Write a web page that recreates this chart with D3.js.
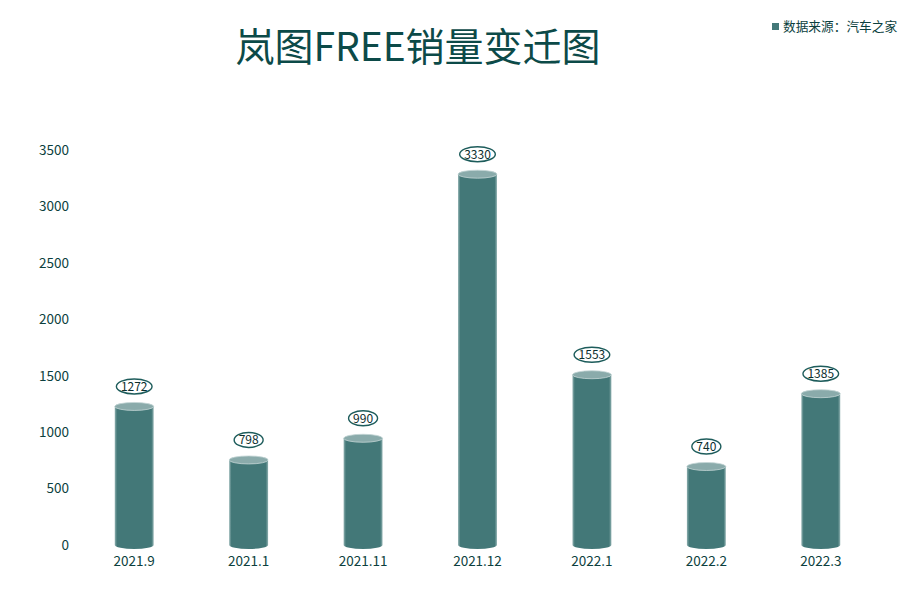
<!DOCTYPE html>
<html>
<head>
<meta charset="utf-8">
<script src="https://cdn.jsdelivr.net/npm/d3@7/dist/d3.min.js"></script>
<style>
  body { margin: 0; background: #fff; }
  text { font-family: "Noto Sans CJK SC", "Noto Sans", sans-serif; }
</style>
</head>
<body>
<div id="chart"></div>
<script>
// chart data
var months = ["2021.9", "2021.1", "2021.11", "2021.12", "2022.1", "2022.2", "2022.3"];
var sales = [1272, 798, 990, 3330, 1553, 740, 1385];
var yTicks = [0, 500, 1000, 1500, 2000, 2500, 3000, 3500];

var width = 913;
var height = 605;

var svg = d3.select("#chart")
    .append("svg")
    .attr("width", width)
    .attr("height", height);

var defs = svg.append("defs");

// side shading of the cylinder body
var bodyGrad = defs.append("linearGradient")
    .attr("id", "bodyGrad")
    .attr("x1", "0%").attr("x2", "100%")
    .attr("y1", "0%").attr("y2", "0%");
bodyGrad.append("stop").attr("offset", "0%").attr("stop-color", "#8fb0b0");
bodyGrad.append("stop").attr("offset", "6%").attr("stop-color", "#437878");
bodyGrad.append("stop").attr("offset", "94%").attr("stop-color", "#437878");
bodyGrad.append("stop").attr("offset", "100%").attr("stop-color", "#8fb0b0");

var x = d3.scaleBand()
    .domain(months)
    .range([77, 878])
    .paddingInner(0.66)
    .paddingOuter(0.33);

var y = d3.scaleLinear()
    .domain([0, 3500])
    .range([545, 150]);

// title
svg.append("text")
    .attr("x", 418)
    .attr("y", 61)
    .attr("text-anchor", "middle")
    .attr("font-size", 39)
    .attr("fill", "#0c4a48")
    .text("岚图FREE销量变迁图");

// legend
svg.append("rect")
    .attr("x", 772).attr("y", 23)
    .attr("width", 7).attr("height", 7)
    .attr("fill", "#437878");
svg.append("text")
    .attr("x", 783).attr("y", 31)
    .attr("font-size", 12.7)
    .attr("fill", "#0c3f3e")
    .text("数据来源：汽车之家");

// y axis labels only
var yAxis = d3.axisLeft(y).tickValues(yTicks).tickFormat(d3.format("d")).tickSize(0).tickPadding(0);
var gy = svg.append("g")
    .attr("transform", "translate(69,0)")
    .call(yAxis);
gy.select(".domain").remove();
gy.selectAll("text")
    .attr("font-size", 13.5)
    .attr("fill", "#0c3f3e")
    .style("font-family", '"Noto Sans CJK SC", sans-serif');

// x axis labels only
var xAxis = d3.axisBottom(x).tickSize(0).tickPadding(0);
var gx = svg.append("g")
    .attr("transform", "translate(0,556)")
    .call(xAxis);
gx.select(".domain").remove();
gx.selectAll("text")
    .attr("font-size", 13.5)
    .attr("fill", "#0c3f3e")
    .style("font-family", '"Noto Sans CJK SC", sans-serif');

var bw = x.bandwidth();
var ry = 4;

var bars = svg.selectAll(".bar")
    .data(sales)
    .enter()
    .append("g")
    .attr("class", "bar");

// body with rounded bottom
bars.append("path")
    .attr("d", function(d, i) {
        var x0 = x(months[i]);
        var x1 = x0 + bw;
        var top = y(d) + ry + 1;
        var bot = y(0);
        return "M" + x0 + "," + top +
            "L" + x0 + "," + bot +
            "A" + (bw / 2) + "," + ry + " 0 0 0 " + x1 + "," + bot +
            "L" + x1 + "," + top + "Z";
    })
    .attr("fill", "url(#bodyGrad)");

// top face
bars.append("ellipse")
    .attr("cx", function(d, i) { return x(months[i]) + bw / 2; })
    .attr("cy", function(d) { return y(d) + ry + 1; })
    .attr("rx", bw / 2)
    .attr("ry", ry)
    .attr("fill", "#8aabab")
    .attr("stroke", "#c4d6d6")
    .attr("stroke-width", 0.8);

// value labels in ovals
var ovals = bars.append("ellipse")
    .attr("cx", function(d, i) { return x(months[i]) + bw / 2; })
    .attr("cy", function(d) { return y(d) - 15; })
    .attr("ry", 7.5)
    .attr("fill", "#fff")
    .attr("stroke", "#1d5c5b")
    .attr("stroke-width", 1.4);

var labels = bars.append("text")
    .attr("x", function(d, i) { return x(months[i]) + bw / 2; })
    .attr("y", function(d) { return y(d) - 15; })
    .attr("dy", "0.36em")
    .attr("text-anchor", "middle")
    .attr("font-size", 12)
    .attr("fill", "#0c2e2e")
    .text(function(d) { return d; });

labels.each(function(d, i) {
    var w = this.getComputedTextLength();
    d3.select(ovals.nodes()[i]).attr("rx", w / 2 + 4.5);
});
</script>
</body>
</html>
